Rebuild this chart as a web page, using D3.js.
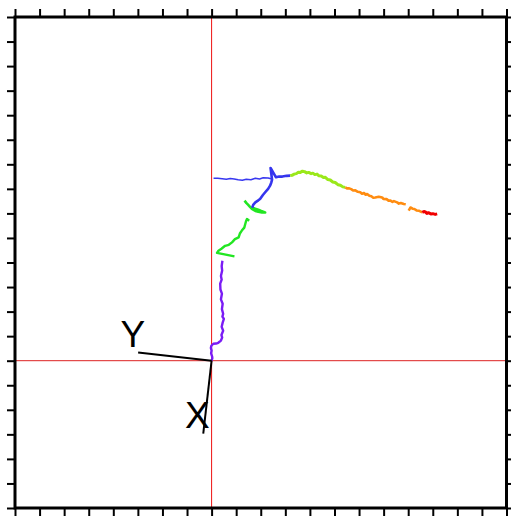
<!DOCTYPE html>
<html>
<head>
<meta charset="utf-8">
<script src="https://cdn.jsdelivr.net/npm/d3@7"></script>
<style>
  body { margin: 0; background: #fff; }
  svg { display: block; }
  .label { font-family: "Liberation Sans", Arial, sans-serif; font-size: 37px; fill: #000; }
</style>
</head>
<body>
<svg id="trackSvg" width="511" height="519"></svg>
<script>
// axis ranges and tick values
const xTicks = d3.range(-8, 13);
const yTicks = d3.range(-6, 15);

// trajectory pieces, [x, y] in plot units
const purplePts = [[0, 0], [0.03, 0.1], [0.02, 0.18], [-0.02, 0.3], [0.0, 0.41], [-0.03, 0.52], [-0.01, 0.61], [0.07, 0.69], [0.18, 0.7], [0.27, 0.73], [0.38, 0.82], [0.43, 0.94], [0.4, 1.05], [0.47, 1.22], [0.41, 1.38], [0.45, 1.55], [0.5, 1.7], [0.44, 1.8], [0.47, 1.91], [0.42, 2.1], [0.45, 2.32], [0.38, 2.5], [0.42, 2.73], [0.36, 2.9], [0.35, 3.14], [0.41, 3.3], [0.38, 3.45], [0.43, 3.67], [0.41, 3.85], [0.44, 4.07]];
const greenPts = [[0.93, 4.25], [0.22, 4.39], [0.28, 4.48], [0.4, 4.56], [0.55, 4.68], [0.7, 4.72], [0.83, 4.82], [0.95, 4.95], [1.1, 5.02], [1.15, 5.18], [1.23, 5.3], [1.33, 5.42], [1.37, 5.57], [1.4, 5.68], [1.44, 5.77], [1.53, 5.7]];
const greenTopPts = [[1.34, 6.52], [1.42, 6.42], [1.49, 6.35], [1.58, 6.25], [1.64, 6.18], [1.78, 6.1], [1.9, 6.07], [2.05, 6.04], [2.18, 6.04], [2.02, 6.1], [1.9, 6.15], [1.65, 6.23]];
const bluePts = [[1.65, 6.23], [1.7, 6.36], [1.78, 6.45], [1.9, 6.53], [1.98, 6.6], [2.08, 6.74], [2.18, 6.86], [2.3, 7.0], [2.38, 7.13], [2.43, 7.26], [2.46, 7.37], [2.4, 7.85], [2.62, 7.47], [2.75, 7.5], [2.88, 7.5], [3.05, 7.53], [3.2, 7.54]];
const blueLinePts = [[2.46, 7.4], [2.3, 7.44], [2.1, 7.45], [1.95, 7.4], [1.78, 7.43], [1.6, 7.37], [1.41, 7.39], [1.25, 7.35], [1.08, 7.37], [0.92, 7.4], [0.76, 7.42], [0.6, 7.39], [0.43, 7.41], [0.25, 7.43], [0.08, 7.43]];
const limePts = [[3.2, 7.54], [3.27, 7.55], [3.36, 7.6], [3.45, 7.62], [3.53, 7.68], [3.61, 7.67], [3.7, 7.72], [3.78, 7.7], [3.87, 7.65], [3.95, 7.67], [4.05, 7.62], [4.12, 7.64], [4.2, 7.58], [4.29, 7.6], [4.37, 7.53], [4.46, 7.52], [4.55, 7.46], [4.63, 7.47], [4.73, 7.38], [4.83, 7.36], [4.93, 7.28], [5.03, 7.26], [5.14, 7.17], [5.24, 7.15], [5.34, 7.08], [5.44, 7.06]];
const orangePts = [[5.44, 7.06], [5.51, 7.02], [5.6, 7.02], [5.68, 6.99], [5.76, 6.93], [5.85, 6.94], [5.95, 6.88], [6.05, 6.86], [6.12, 6.8], [6.2, 6.83], [6.27, 6.76], [6.33, 6.79], [6.42, 6.72], [6.5, 6.7], [6.58, 6.64], [6.66, 6.65], [6.8, 6.68], [6.94, 6.65], [6.99, 6.59], [7.12, 6.58], [7.2, 6.52], [7.28, 6.52], [7.36, 6.47], [7.42, 6.5], [7.55, 6.45], [7.62, 6.4], [7.7, 6.42], [7.82, 6.38], [7.9, 6.37]];
const orangeEndPts = [[8.02, 6.11], [8.09, 6.24], [8.18, 6.19], [8.25, 6.18], [8.34, 6.12], [8.43, 6.11], [8.57, 6.04]];
const redPts = [[8.57, 6.04], [8.64, 6.08], [8.7, 6.06], [8.76, 6.0], [8.82, 6.03], [8.92, 5.98], [9.0, 5.99], [9.1, 5.96], [9.18, 5.98]];

// body axes triad
const axisNames = ["X", "Y"];
const axisEnds = [[-0.34, -2.97], [-2.99, 0.33]];
const labelPos = [[-0.58, -2.74], [-3.2, 0.55]];

const svg = d3.select("#trackSvg");

const x = d3.scaleLinear().domain([-8, 12]).range([15, 506.5]);
const y = d3.scaleLinear().domain([-6, 14]).range([508, 17]);

const line = d3.line().x(d => x(d[0])).y(d => y(d[1]));

// tick marks on all four sides
function tickAxis(axis, tx, ty, values) {
    const g = svg.append("g")
        .attr("transform", `translate(${tx},${ty})`)
        .call(axis.tickValues(values).tickSize(8).tickSizeOuter(0).tickFormat(""));
    g.select(".domain").remove();
    g.selectAll(".tick line").attr("stroke", "#000").attr("stroke-width", 2);
}
tickAxis(d3.axisTop(x), 0, 17, xTicks);
tickAxis(d3.axisBottom(x), 0, 508, xTicks);
tickAxis(d3.axisLeft(y), 15, 0, yTicks);
tickAxis(d3.axisRight(y), 506.5, 0, yTicks);

// zero lines
svg.append("line")
    .attr("x1", x(0)).attr("x2", x(0))
    .attr("y1", y(14)).attr("y2", y(-6))
    .attr("stroke", "#ee1111").attr("stroke-width", 1);
svg.append("line")
    .attr("x1", x(-8)).attr("x2", x(12))
    .attr("y1", y(0)).attr("y2", y(0))
    .attr("stroke", "#dd2222").attr("stroke-width", 1);

// trajectory
const pieces = [
    { pts: purplePts, color: "#7a1cf5", w: 2.4 },
    { pts: greenPts, color: "#22e622", w: 2.4 },
    { pts: greenTopPts, color: "#22e622", w: 2.6 },
    { pts: blueLinePts, color: "#3838f0", w: 1.6 },
    { pts: bluePts, color: "#3535ee", w: 2.6 },
    { pts: limePts, color: "#9ae81a", w: 3 },
    { pts: orangePts, color: "#ff8c10", w: 2.6 },
    { pts: orangeEndPts, color: "#ff8c10", w: 2.6 },
    { pts: redPts, color: "#f00000", w: 3 }
];
svg.append("g").selectAll("path")
    .data(pieces)
    .join("path")
    .attr("d", d => line(d.pts))
    .attr("fill", "none")
    .attr("stroke", d => d.color)
    .attr("stroke-width", d => d.w)
    .attr("stroke-linejoin", "round");

// axis triad
svg.append("g").selectAll("line")
    .data(axisEnds)
    .join("line")
    .attr("x1", x(0)).attr("y1", y(0))
    .attr("x2", d => x(d[0])).attr("y2", d => y(d[1]))
    .attr("stroke", "#000").attr("stroke-width", 2);

svg.append("g").selectAll("text")
    .data(axisNames)
    .join("text")
    .attr("class", "label")
    .attr("x", (d, i) => x(labelPos[i][0]))
    .attr("y", (d, i) => y(labelPos[i][1]))
    .attr("text-anchor", "middle")
    .text(d => d);

// frame
svg.append("rect")
    .attr("x", x(-8)).attr("y", y(14))
    .attr("width", x(12) - x(-8)).attr("height", y(-6) - y(14))
    .attr("fill", "none").attr("stroke", "#000").attr("stroke-width", 3);
</script>
</body>
</html>
